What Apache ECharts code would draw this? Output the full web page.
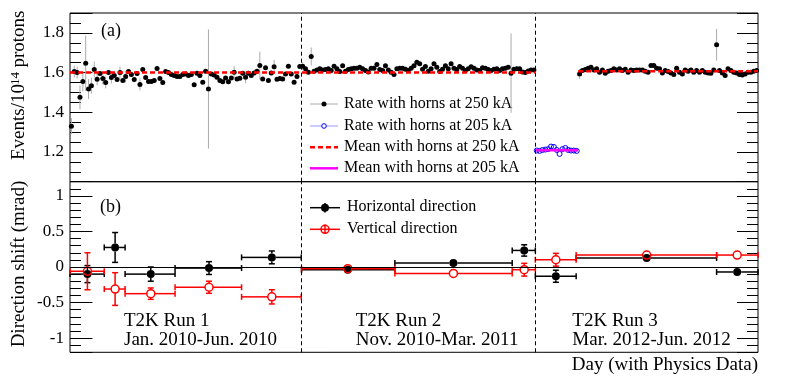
<!DOCTYPE html>
<html>
<head>
<meta charset="utf-8">
<script src="https://cdn.jsdelivr.net/npm/echarts@6/dist/echarts.min.js"></script>
<style>
  html, body { margin: 0; padding: 0; background: #fff; }
  #chart { width: 789px; height: 387px; }
</style>
</head>
<body>
<div id="chart"></div>
<script>
// (a) event rate per 10^14 protons, one point per day
let run1Start = 0;
let run1Rate = [1.33, 1.605, 1.60, 1.475, 1.555, 1.647, 1.517, 1.534, 1.615, 1.566, 1.595, 1.57, 1.55, 1.60, 1.575, 1.585, 1.565, 1.60, 1.56, 1.58,
  1.605, 1.59, 1.565, 1.595, 1.54, 1.615, 1.575, 1.555, 1.555, 1.56, 1.62, 1.57, 1.55, 1.605, 1.60, 1.59, 1.585, 1.58, 1.58, 1.59,
  1.593, 1.585, 1.59, 1.538, 1.597, 1.585, 1.551, 1.607, 1.517, 1.593, 1.588, 1.576, 1.56, 1.554, 1.573, 1.554, 1.573, 1.602, 1.568, 1.571,
  1.597, 1.576, 1.597, 1.585, 1.598, 1.607, 1.635, 1.568, 1.624, 1.56, 1.598, 1.629, 1.566, 1.57, 1.568, 1.593, 1.632, 1.593, 1.551, 1.58, 1.63];
let run1BigErr = [[0, 0.04], [1, 0.03], [2, 0.03], [3, 0.06], [4, 0.05], [5, 0.14], [6, 0.05], [7, 0.04], [8, 0.04], [9, 0.03], [11, 0.03],
  [12, 0.03], [14, 0.03], [17, 0.03], [19, 0.03], [24, 0.03], [48, 0.3], [57, 0.03], [61, 0.03], [66, 0.07], [71, 0.035]];

let run2Start = 81;
let run2Rate = [1.632, 1.619, 1.602, 1.681, 1.607, 1.613, 1.619, 1.613, 1.615, 1.619, 1.610, 1.632, 1.619, 1.605, 1.634, 1.607, 1.615, 1.619, 1.622, 1.622,
  1.627, 1.619, 1.610, 1.603, 1.622, 1.622, 1.640, 1.615, 1.610, 1.634, 1.613, 1.602, 1.590, 1.619, 1.622, 1.622, 1.617, 1.610, 1.622, 1.634,
  1.652, 1.644, 1.617, 1.630, 1.607, 1.619, 1.644, 1.627, 1.605, 1.617, 1.634, 1.619, 1.644, 1.622, 1.615, 1.630, 1.622, 1.610, 1.619, 1.629,
  1.622, 1.613, 1.610, 1.624, 1.622, 1.615, 1.610, 1.617, 1.619, 1.610, 1.619, 1.622, 1.627, 1.597, 1.617, 1.619, 1.619, 1.603, 1.600, 1.608,
  1.613, 1.613];
let run2BigErr = [[0, 0.02], [3, 0.045], [73, 0.2]];

let run3Start205 = 163;
let run3Rate205 = [1.207, 1.205, 1.21, 1.212, 1.214, 1.227, 1.225, 1.21, 1.19, 1.214, 1.22, 1.21, 1.207, 1.207, 1.205];

let run3Start250 = 178;
let run3Rate250 = [1.593, 1.61, 1.615, 1.622, 1.627, 1.613, 1.619, 1.602, 1.613, 1.597, 1.607, 1.61, 1.619, 1.613, 1.619, 1.61, 1.617, 1.602, 1.613, 1.61,
  1.613, 1.613, 1.613, 1.607, 1.602, 1.635, 1.635, 1.622, 1.619, 1.598, 1.61, 1.605, 1.598, 1.59, 1.622, 1.602, 1.593, 1.613, 1.607, 1.613,
  1.602, 1.61, 1.602, 1.61, 1.602, 1.598, 1.597, 1.613, 1.74, 1.61, 1.598, 1.585, 1.619, 1.61, 1.602, 1.598, 1.59, 1.588, 1.593, 1.602,
  1.602, 1.607, 1.61];
let run3BigErr = [[0, 0.025], [48, 0.08]];

let rateErr = 0.012;
let rateErr205 = 0.01;

// mean lines [from day, to day, value]
let mean250 = [[-0.5, 162.5, 1.600], [177.5, 240.5, 1.607]];
let mean205 = [[162.5, 177.5, 1.208]];

let runBoundaries = [80.5, 162.5];

// (b) beam direction shift per period
let binCenter = [5.6, 15.3, 27.8, 48.2, 70.2, 96.8, 133.8, 158.6, 169.7, 201.5, 233.2];
let binLow = [-0.5, 11.5, 18.8, 36.3, 59.6, 80.6, 113.3, 154.4, 162.5, 176.8, 226.0];
let binHigh = [11.5, 18.8, 36.3, 59.6, 80.5, 113.3, 154.4, 162.5, 176.8, 226.0, 240.5];
let horizShift = [-0.10, 0.275, -0.10, -0.015, 0.135, -0.04, 0.056, 0.233, -0.13, 0.126, -0.07];
let horizErr = [0.12, 0.21, 0.10, 0.09, 0.09, 0.02, 0.02, 0.08, 0.085, 0.02, 0.04];
let vertShift = [-0.06, -0.31, -0.375, -0.285, -0.42, -0.024, -0.09, -0.038, 0.102, 0.168, 0.168];
let vertErr = [0.26, 0.23, 0.08, 0.085, 0.1, 0.02, 0.02, 0.09, 0.09, 0.02, 0.02];

let runLabels = [['T2K Run 1', 'Jan. 2010-Jun. 2010'], ['T2K Run 2', 'Nov. 2010-Mar. 2011'], ['T2K Run 3', 'Mar. 2012-Jun. 2012']];

let FONT = 'Liberation Serif';
let X_MIN = -0.5, X_MAX = 240.5;

function rateData(start, vals, defErr, big) {
  let errs = vals.map(() => defErr);
  big.forEach(b => { errs[b[0]] = b[1]; });
  return vals.map((v, i) => [start + i, v, errs[i]]);
}

function seg(x1, y1, x2, y2, color, w) {
  return { type: 'line', shape: { x1: x1, y1: y1, x2: x2, y2: y2 }, style: { stroke: color, lineWidth: w } };
}

function vErrRenderer(color, width, gap) {
  return function (params, api) {
    let x = api.value(0), y = api.value(1), e = api.value(2);
    let c = api.coord([x, y]);
    let top = api.coord([x, y + e]);
    let bot = api.coord([x, y - e]);
    let kids = [];
    if (c[1] - top[1] > gap) kids.push(seg(c[0], top[1], c[0], c[1] - gap, color, width));
    if (bot[1] - c[1] > gap) kids.push(seg(c[0], c[1] + gap, c[0], bot[1], color, width));
    return { type: 'group', children: kids };
  };
}

function xyErrRenderer(color, width, gap) {
  return function (params, api) {
    let x = api.value(0), y = api.value(1), lo = api.value(2), hi = api.value(3), e = api.value(4);
    let c = api.coord([x, y]);
    let l = api.coord([lo, y]);
    let h = api.coord([hi, y]);
    let top = api.coord([x, y + e]);
    let bot = api.coord([x, y - e]);
    let cap = 3;
    let kids = [];
    if (c[0] - l[0] > gap) kids.push(seg(l[0], c[1], c[0] - gap, c[1], color, width));
    if (h[0] - c[0] > gap) kids.push(seg(c[0] + gap, c[1], h[0], c[1], color, width));
    kids.push(seg(l[0], c[1] - cap, l[0], c[1] + cap, color, width));
    kids.push(seg(h[0], c[1] - cap, h[0], c[1] + cap, color, width));
    if (c[1] - top[1] > gap) {
      kids.push(seg(c[0], top[1], c[0], c[1] - gap, color, width));
      kids.push(seg(c[0] - cap, top[1], c[0] + cap, top[1], color, width));
    }
    if (bot[1] - c[1] > gap) {
      kids.push(seg(c[0], c[1] + gap, c[0], bot[1], color, width));
      kids.push(seg(c[0] - cap, bot[1], c[0] + cap, bot[1], color, width));
    }
    return { type: 'group', children: kids };
  };
}

function yAxisSet(gridIndex, min, max, minorStep, labelFn) {
  let base = { gridIndex: gridIndex, type: 'value', min: min, max: max, splitLine: { show: false }, axisLine: { show: false } };
  let tickStyle = { color: '#000', width: 1 };
  return [
    Object.assign({}, base, {
      position: 'left',
      axisTick: { show: true, inside: true, length: 21, lineStyle: tickStyle },
      axisLabel: { show: true, margin: 6, color: '#000', fontFamily: FONT, fontSize: 17, formatter: labelFn }
    }),
    Object.assign({}, base, {
      position: 'left', interval: minorStep,
      axisTick: { show: true, inside: true, length: 11, lineStyle: tickStyle },
      axisLabel: { show: false }
    }),
    Object.assign({}, base, {
      position: 'right',
      axisTick: { show: true, inside: true, length: 21, lineStyle: tickStyle },
      axisLabel: { show: false }
    }),
    Object.assign({}, base, {
      position: 'right', interval: minorStep,
      axisTick: { show: true, inside: true, length: 11, lineStyle: tickStyle },
      axisLabel: { show: false }
    })
  ];
}

function topLabel(v) {
  let k = v * 5;
  if (Math.abs(k - Math.round(k)) < 1e-6 && v > 1.1 && v < 1.85) return String(Math.round(v * 10) / 10);
  return '';
}

function bottomLabel(v) {
  let k = v * 2;
  if (Math.abs(k - Math.round(k)) < 1e-6 && Math.abs(v) < 1.05) return String(Math.round(v * 10) / 10);
  return '';
}

function meanSeries(segs, color, dash, width) {
  return segs.map(s => ({
    type: 'line', xAxisIndex: 0, yAxisIndex: 0,
    data: [[s[0], s[2]], [s[1], s[2]]],
    symbol: 'none', silent: true,
    lineStyle: { color: color, width: width, type: dash, opacity: 1 }
  }));
}

function boundaryLines(extra) {
  let data = runBoundaries.map(b => ({ xAxis: b, lineStyle: { color: '#000', width: 1, type: [4, 3], opacity: 1 } }));
  return {
    symbol: ['none', 'none'], silent: true, animation: false,
    label: { show: false },
    data: data.concat(extra || [])
  };
}

function makeText(x, y, text, size, align, extra) {
  return Object.assign({
    type: 'text', x: x, y: y, silent: true,
    style: { text: text, fill: '#000', font: size + 'px "' + FONT + '"', align: align || 'left', verticalAlign: 'middle' }
  }, extra || {});
}

function init() {

  let chart = echarts.init(document.getElementById('chart'), null, { renderer: 'canvas' });

  let blackRate = []
    .concat(rateData(run1Start, run1Rate, rateErr, run1BigErr))
    .concat(rateData(run2Start, run2Rate, rateErr, run2BigErr))
    .concat(rateData(run3Start250, run3Rate250, rateErr, run3BigErr));
  let blueRate = rateData(run3Start205, run3Rate205, rateErr205, []);

  let horizData = binCenter.map((x, i) => [x, horizShift[i], binLow[i], binHigh[i], horizErr[i]]);
  let vertData = binCenter.map((x, i) => [x, vertShift[i], binLow[i], binHigh[i], vertErr[i]]);

  let graphics = [
    makeText(101, 31.5, '(a)', 18),
    makeText(100, 207.5, '(b)', 18),
    // y titles
    makeText(19, 122, 'Events/10', 19, 'center', { rotation: Math.PI / 2 }),
    makeText(15.5, 78.5, '14', 13, 'center', { rotation: Math.PI / 2 }),
    makeText(19, 39, 'protons', 19, 'center', { rotation: Math.PI / 2 }),
    makeText(19.5, 264, 'Direction shift (mrad)', 19, 'center', { rotation: Math.PI / 2 }),
    makeText(758, 365.5, 'Day (with Physics Data)', 19, 'right'),
    // legend (a)
    { type: 'line', silent: true, shape: { x1: 310, y1: 104, x2: 338, y2: 104 }, style: { stroke: '#aaaaaa', lineWidth: 1 } },
    { type: 'circle', silent: true, shape: { cx: 324, cy: 104, r: 2.5 }, style: { fill: '#000' } },
    makeText(344, 103.5, 'Rate with horns at 250 kA', 16),
    { type: 'line', silent: true, shape: { x1: 310, y1: 126, x2: 338, y2: 126 }, style: { stroke: '#9999ff', lineWidth: 1 } },
    { type: 'circle', silent: true, shape: { cx: 324, cy: 126, r: 2.3 }, style: { fill: '#fff', stroke: '#0000ff', lineWidth: 1 } },
    makeText(344, 125.5, 'Rate with horns at 205 kA', 16),
    { type: 'line', silent: true, shape: { x1: 310, y1: 147.3, x2: 338, y2: 147.3 }, style: { stroke: '#ff0000', lineWidth: 2.5, lineDash: [5, 3] } },
    makeText(344, 147, 'Mean with horns at 250 kA', 16),
    { type: 'line', silent: true, shape: { x1: 310, y1: 168.3, x2: 338, y2: 168.3 }, style: { stroke: '#ff00ff', lineWidth: 2.5 } },
    makeText(344, 168, 'Mean with horns at 205 kA', 16),
    // legend (b)
    { type: 'line', silent: true, shape: { x1: 310, y1: 207.7, x2: 340, y2: 207.7 }, style: { stroke: '#000', lineWidth: 1.5 } },
    { type: 'line', silent: true, shape: { x1: 325, y1: 203, x2: 325, y2: 212.4 }, style: { stroke: '#000', lineWidth: 1.5 } },
    { type: 'circle', silent: true, shape: { cx: 325, cy: 207.7, r: 4 }, style: { fill: '#000' } },
    makeText(347, 207.2, 'Horizontal direction', 16),
    { type: 'line', silent: true, shape: { x1: 310, y1: 229.3, x2: 340, y2: 229.3 }, style: { stroke: '#ff0000', lineWidth: 1.5 } },
    { type: 'line', silent: true, shape: { x1: 325, y1: 224.6, x2: 325, y2: 234 }, style: { stroke: '#ff0000', lineWidth: 1.5 } },
    { type: 'circle', silent: true, shape: { cx: 325, cy: 229.3, r: 4 }, style: { fill: 'rgba(0,0,0,0)', stroke: '#ff0000', lineWidth: 1.5 } },
    makeText(347, 228.8, 'Vertical direction', 16)
  ];

  let runLabelX = [124, 355.7, 572.3];
  runLabels.forEach((pair, i) => {
    graphics.push(makeText(runLabelX[i], 321, pair[0], 19));
    graphics.push(makeText(runLabelX[i], 340, pair[1], 19));
  });

  let option = {
    animation: false,
    backgroundColor: '#fff',
    grid: [
      { left: 70, top: 13, width: 688, height: 168.7, show: true, borderColor: '#000', borderWidth: 1, backgroundColor: 'transparent' },
      { left: 70, top: 181.7, width: 688, height: 170.6, show: true, borderColor: '#000', borderWidth: 1, backgroundColor: 'transparent' }
    ],
    xAxis: [
      { gridIndex: 0, type: 'value', min: X_MIN, max: X_MAX, show: false },
      { gridIndex: 1, type: 'value', min: X_MIN, max: X_MAX, show: false }
    ],
    yAxis: yAxisSet(0, 1.05, 1.9, 0.05, topLabel).concat(yAxisSet(1, -1.2, 1.2, 0.1, bottomLabel)),
    graphic: graphics,
    series: [
      {
        type: 'line', xAxisIndex: 0, yAxisIndex: 0, data: [], silent: true,
        markLine: boundaryLines()
      },
      {
        type: 'custom', xAxisIndex: 0, yAxisIndex: 0, silent: true,
        renderItem: vErrRenderer('#aaaaaa', 1, 2.5),
        encode: { x: 0, y: 1 },
        data: blackRate
      }
    ].concat(meanSeries(mean250, '#ff0000', [5, 3], 2.5)).concat([
      {
        type: 'scatter', xAxisIndex: 0, yAxisIndex: 0, silent: true,
        symbol: 'circle', symbolSize: 5,
        itemStyle: { color: '#000', opacity: 1 },
        data: blackRate.map(d => [d[0], d[1]])
      },
      {
        type: 'custom', xAxisIndex: 0, yAxisIndex: 0, silent: true,
        renderItem: vErrRenderer('#9999ff', 1, 2.5),
        encode: { x: 0, y: 1 },
        data: blueRate
      },
      {
        type: 'scatter', xAxisIndex: 0, yAxisIndex: 0, silent: true,
        symbol: 'circle', symbolSize: 5,
        itemStyle: { color: 'rgba(0,0,0,0)', borderColor: '#0000ff', borderWidth: 1, opacity: 1 },
        data: blueRate.map(d => [d[0], d[1]])
      }
    ]).concat(meanSeries(mean205, '#ff00ff', 'solid', 2.5)).concat([
      {
        type: 'line', xAxisIndex: 1, yAxisIndex: 4, data: [], silent: true,
        markLine: boundaryLines([{ yAxis: 0, lineStyle: { color: '#000', width: 1.2, type: 'solid', opacity: 1 } }])
      },
      {
        type: 'custom', xAxisIndex: 1, yAxisIndex: 4, silent: true,
        renderItem: xyErrRenderer('#000', 1.5, 4),
        encode: { x: 0, y: 1 },
        data: horizData
      },
      {
        type: 'scatter', xAxisIndex: 1, yAxisIndex: 4, silent: true,
        symbol: 'circle', symbolSize: 8,
        itemStyle: { color: '#000', opacity: 1 },
        data: horizData.map(d => [d[0], d[1]])
      },
      {
        type: 'custom', xAxisIndex: 1, yAxisIndex: 4, silent: true,
        renderItem: xyErrRenderer('#ff0000', 1.5, 4),
        encode: { x: 0, y: 1 },
        data: vertData
      },
      {
        type: 'scatter', xAxisIndex: 1, yAxisIndex: 4, silent: true,
        symbol: 'circle', symbolSize: 8,
        itemStyle: { color: 'rgba(0,0,0,0)', borderColor: '#ff0000', borderWidth: 1.5, opacity: 1 },
        data: vertData.map(d => [d[0], d[1]])
      }
    ])
  };

  chart.setOption(option);

}

document.addEventListener('DOMContentLoaded', init);
</script>
</body>
</html>
